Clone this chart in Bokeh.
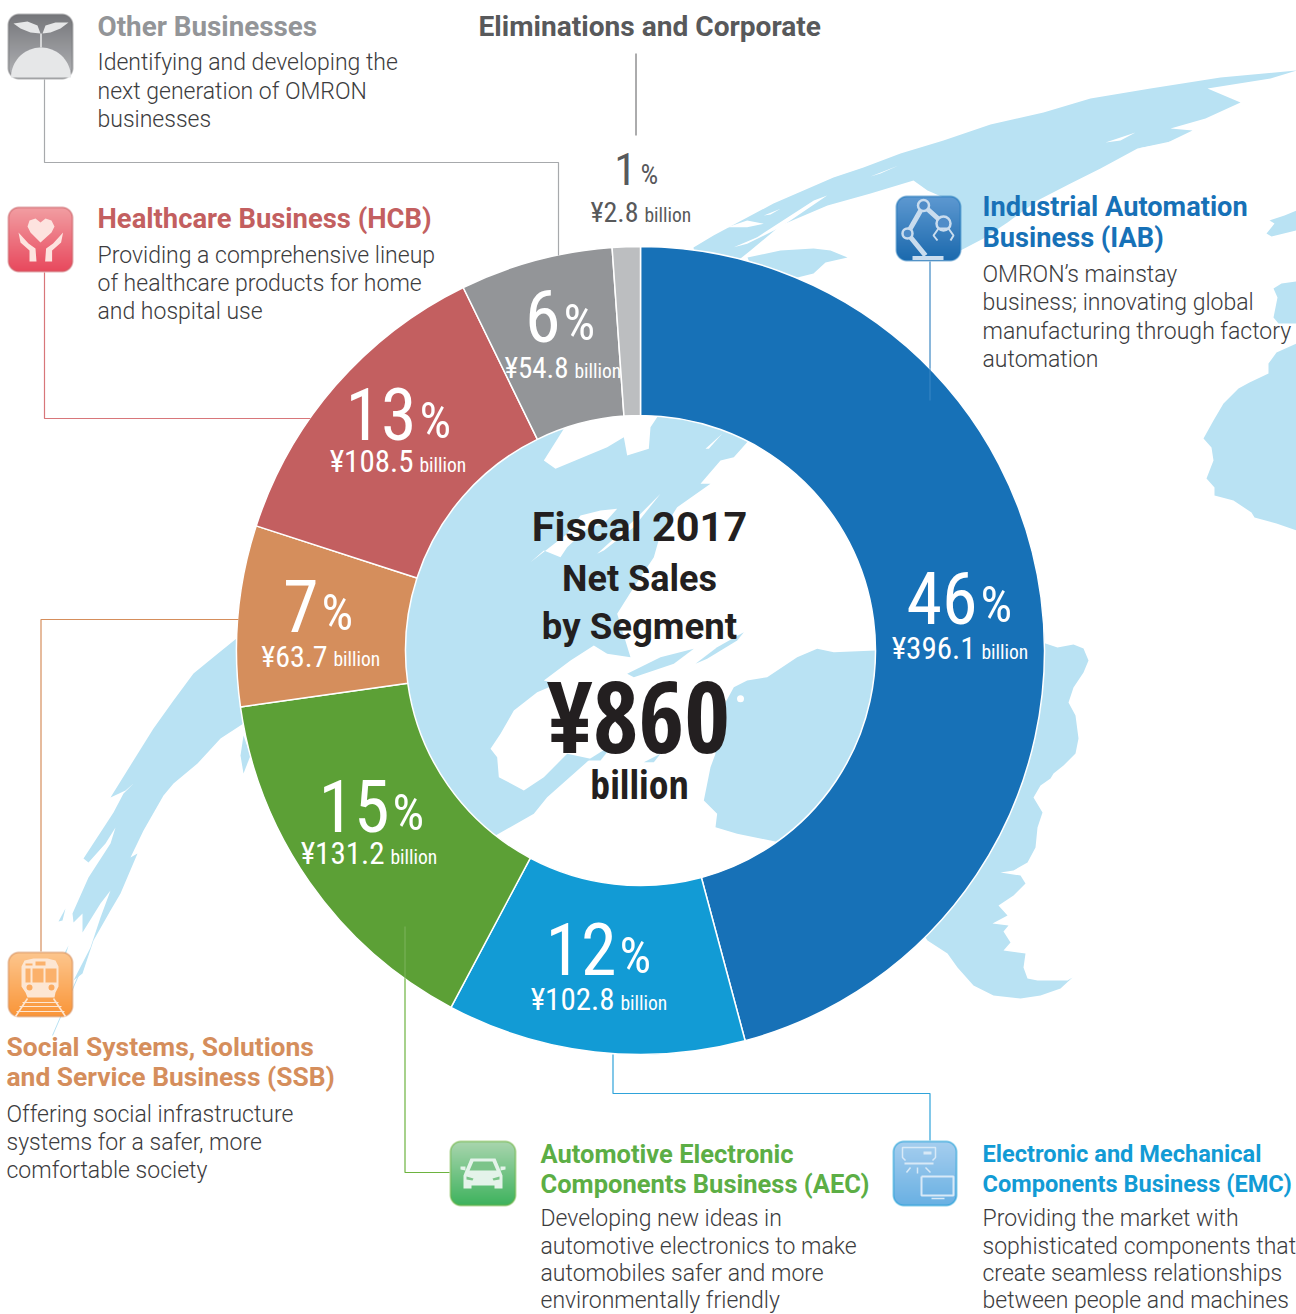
import numpy as np
from bokeh.plotting import figure
from bokeh.embed import file_html
from bokeh.resources import INLINE
from bokeh.core.properties import value

# ---------- data ----------
segments = ["Industrial Automation Business (IAB)", "Electronic and Mechanical Components Business (EMC)",
            "Automotive Electronic Components Business (AEC)", "Social Systems, Solutions and Service Business (SSB)",
            "Healthcare Business (HCB)", "Other Businesses", "Eliminations and Corporate"]
percents = [46, 12, 15, 7, 13, 6, 1]
drawn_shares = [45.83, 11.94, 15.0, 7.22, 12.78, 6.11, 1.12]   # slice sizes
amounts = ["396.1", "102.8", "131.2", "63.7", "108.5", "54.8", "2.8"]
colors = ["#1771b7", "#129bd5", "#5ca036", "#d58e5c", "#c35f60", "#939598", "#bcbec0"]
total_text = "¥860"

LAND = "#b9e2f3"
DARK = "#231f20"
BODY_C = "#3c3c3e"
BODY_FONT = "Roboto Light"
HEAD_FONT = "Roboto"
NUM_FONT = "Roboto Condensed"
NUM_BOLD = "Open Sans Condensed"
MID = {BODY_FONT: .345, HEAD_FONT: .345, NUM_FONT: .345, NUM_BOLD: .388}

def Y(py):
    return 1314 - np.asarray(py, dtype=float)

p = figure(width=1296, height=1314, x_range=(0, 1296), y_range=(0, 1314),
           toolbar_location=None, output_backend="svg", min_border=0)
p.axis.visible = False
p.grid.visible = False
p.outline_line_color = None
p.background_fill_color = "white"

def poly(pts, color=LAND, **kw):
    a = np.array(pts, dtype=float)
    p.patch(a[:, 0], Y(a[:, 1]), fill_color=color, line_color=None, **kw)

def line(pts, color, width=1.0, cap="butt"):
    a = np.array(pts, dtype=float)
    p.line(a[:, 0], Y(a[:, 1]), line_color=color, line_width=width, line_cap=cap)

def T(x, bl, s, size, color, font, style="normal", align="left"):
    p.text([x], [float(Y(bl - MID[font] * size))], text=[s], text_font=value(font),
           text_font_size=value(f"{size}px"), text_font_style=style, text_color=color,
           text_align=align, text_baseline="alphabetic")

def Z8(pts):
    return [(480 + x / 3, 60 + y / 3) for x, y in pts]

# ---------- outer land ----------
poly([(693,247),(713,235),(773,203),(833,177),(863,167),(900,153),(943,140),(990,124),(1043,112),(1090,98),
      (1150,88),(1220,77),(1296,70),(1270,78),(1207,88),(1240,102),(1205,118),(1170,128),(1192,130),(1165,143),
      (1137,148),(1100,168),(1070,183),(1037,200),(1007,222),(983,238),(960,250),(950,200),(927,190),(913,180),
      (870,193),(827,205),(780,225),(750,250),(700,290)])
poly(Z8([(740,500),(800,480),(850,490),(800,500)]), "white")
poly(Z8([(850,465),(900,445),(870,462)]), "white")
poly(Z8([(760,560),(830,530),(1000,420),(1040,405),(900,500),(800,550)]), "white")
poly([(870,176),(898,165),(880,173)], "white")
poly([(1137,148),(1170,141),(1160,146)], "white")
poly([(1105,142),(1135,132),(1120,140)], "white")
poly([(747,257),(780,250),(813,248),(830,250),(847,257),(825,262),(813,273),(797,277),(760,290)])
poly([(1296,210),(1284,215),(1269,220),(1274,223),(1266,233),(1271,236),(1296,230)])
poly([(1296,281),(1281,283),(1273,288),(1277,297),(1275,307),(1273,317),(1278,323),(1296,323)])
poly([(1296,343),(1276,352),(1268,363),(1268,373),(1249,382),(1238,388),(1223,403),(1213,420),(1203,438),(1211,447),
      (1213,460),(1206,478),(1214,487),(1214,495),(1233,500),(1251,512),(1254,517),(1276,523),(1296,530)])
# south america
poly([(1000,640),(1045,643),(1057,647),(1073,644),(1083,648),(1088,660),(1083,672),(1073,687),(1068,702),(1075,715),
      (1078,738),(1075,753),(1063,765),(1053,773),(1050,778),(1040,785),(1033,797),(1042,812),(1037,827),(1035,847),
      (1027,862),(1013,870),(1000,872),(1020,875),(1025,883),(1013,895),(998,905),(1007,915),(992,923),(1008,925),
      (1003,931),(1010,942),(1003,950),(1025,953),(1023,967),(1027,978),(1037,980),(1067,980),(1072,977),(1060,988),
      (1040,995),(1020,998),(993,995),(973,985),(957,967),(947,953),(927,940),(900,900)])
# south-west land
poly([(260,625),(236,638),(215,655),(193,673),(173,700),(153,728),(133,760),(110,797),(125,790),(133,783),(123,793),
      (113,812),(83,858),(88,862),(105,843),(115,827),(110,843),(88,877),(72,913),(73,922),(82,913),(82,932),(100,903),
      (110,890),(100,917),(90,947),(73,980),(82,973),(93,940),(110,910),(120,893),(137,853),(130,857),(143,830),(163,795),
      (173,783),(197,763),(220,738),(243,723),(270,700)])
poly([(58,921),(65,908),(62,920)])
poly([(60,960),(68,945),(63,962)])
poly([(243,773),(250,755),(243,735),(240,755)])
line([(52,1035),(78,975)], LAND, 1.0)

# ---------- centre disc with map ----------
p.circle([640], [float(Y(650))], radius=236, fill_color=LAND, line_color=None)
def Z(pts):
    return [(400 + x / 3, 400 + y / 3) for x, y in pts]
poly(Z([(1040,125),(1000,170),(960,180),(900,250),(930,250),(830,320),(780,400),(760,470),(700,560),(650,640),(690,770),
        (620,760),(580,735),(510,780),(430,840),(470,850),(410,875),(340,930),(300,1000),(270,1045),(290,1070),(295,1130),
        (370,1170),(430,1130),(500,1060),(570,1075),(440,1190),(400,1240),(285,1305),(280,1500),(1135,1500),(1135,1325),
        (1010,1300),(945,1280),(950,1240),(910,1200),(930,1100),(945,1060),(940,970),(1000,860),(1040,840),(1100,830),
        (1190,770),(1250,745),(1300,755),(1425,750),(1600,750),(1600,0),(1040,0)]), "white")
poly(Z([(490,85),(430,180),(465,205),(620,140),(670,110),(680,165),(745,145),(750,80),(770,50),(770,0),(490,0)]), "white")
poly(Z([(390,485),(500,400),(540,345),(600,330),(650,325),(610,370),(560,385),(500,440),(480,470),(430,450)]), "white")
poly(Z([(590,460),(700,360),(780,280),(700,380),(610,450)]), "white")
poly(Z([(915,145),(965,100),(925,145)]), "white")
poly(Z([(680,820),(780,770),(880,745),(820,790),(700,830)]))
poly(Z([(885,790),(950,740),(1030,695),(1010,720),(920,775)]))
poly(Z([(560,1080),(640,1030),(600,1080)]))
poly(Z([(730,1085),(780,1060),(760,1085)]))
p.circle([400 + 1020 / 3], [float(Y(400 + 895 / 3))], radius=3.5, fill_color="white", line_color=None)

# ---------- donut ----------
frac = np.array(drawn_shares, dtype=float) / sum(drawn_shares)
edges = np.concatenate([[0], np.cumsum(frac)]) * 2 * np.pi
p.annular_wedge(x=640, y=float(Y(650)), inner_radius=235, outer_radius=404,
                start_angle=np.pi / 2 - edges[:-1], end_angle=np.pi / 2 - edges[1:], direction="clock",
                fill_color=colors, line_color="white", line_width=1.5)

# ---------- connectors ----------
line([(44,79),(44,162),(558,162),(558,255)], "#a7a9ac", 1.2)
line([(44,272),(44,418),(310,418)], "#d8767a", 1.2)
line([(635.5,53),(635.5,135)], "#58595b", 1.0)
line([(929.5,261),(929.5,368)], "#1771b7", 1.0)
line([(929.5,368),(929.5,400)], "#3b88c5", 1.0)
line([(40.5,951),(40.5,619),(238,619)], "#d58e5c", 1.2)
line([(404.5,978),(404.5,1172),(449,1172)], "#6db33f", 1.2)
line([(404.5,926),(404.5,978)], "#7cb35c", 1.0)
line([(612.5,1054),(612.5,1093),(929.5,1093),(929.5,1140)], "#2fa3da", 1.2)

# ---------- icons ----------
def hex2rgb(h):
    return np.array([int(h[i:i + 2], 16) for i in (1, 3, 5)], dtype=float)

def icon(x0, y0, w, h, top, bot, border, rad=11.5, bw=2.0, ss=3):
    W, H = int(w * ss), int(h * ss)
    yy, xx = np.mgrid[0:H, 0:W]
    px = (xx + .5) / ss
    py = h - (yy + .5) / ss          # row 0 is the bottom of the picture
    dx = np.abs(px - w / 2) - (w / 2 - rad)
    dy = np.abs(py - h / 2) - (h / 2 - rad)
    d = np.hypot(np.maximum(dx, 0), np.maximum(dy, 0)) + np.minimum(np.maximum(dx, dy), 0) - rad
    t = (py / h)[..., None]
    c = hex2rgb(top) * (1 - t) + hex2rgb(bot) * t
    k = np.clip(d + bw, 0, 1)[..., None]
    c = c * (1 - k) + hex2rgb(border) * k
    a = np.clip(-d, 0, 1) * 255
    img = np.dstack([c, a]).astype(np.uint8)
    u = img.view(np.uint32).reshape(H, W)
    p.image_rgba(image=[u], x=[x0], y=[float(Y(y0 + h))], dw=[w], dh=[h])

icon(7, 13, 66, 66, "#75767a", "#b4b5b8", "#6d6e71")
icon(7, 206, 66, 66, "#f2a0a4", "#e8475c", "#c95f64")
icon(895, 195, 66, 66, "#5f9ad2", "#1b69ad", "#1771b7")
icon(7, 951, 66, 66, "#fdc78f", "#fa9537", "#d58e5c")
icon(449, 1140, 67, 66, "#abd6b0", "#3cb25c", "#6db33f")
icon(892, 1140, 65, 66, "#a8cfef", "#68b0e3", "#129bd5")

# other businesses: sprout and globe
G = "#e6e7e8"
poly([(13,23),(27,21),(37,25),(40,33),(30,32),(20,28)], G)
poly([(42,33),(45,25),(55,22),(68,22),(60,28),(50,32)], G)
line([(40.5,33),(40.5,47)], G, 1.6)
th = np.linspace(np.pi, 0, 40)
poly(list(zip(40.5 + 30 * np.cos(th), 77 - 30 * np.sin(th))), G)
# health: heart and hands
H = "#fde3df"
poly([(40,242),(30,232),(27,226),(29,220),(35,218),(40,222),(45,218),(51,220),(54,226),(51,232)], H)
hand = [(18,232),(28,243),(35,248),(36,261),(29,261),(29,250),(20,242)]
poly(hand, H)
poly([(80.6 - x, y) for x, y in hand], H)
# robot
R = "#c9dcee"
line([(912,257.5),(943,257.5)], R, 4)
line([(925,255),(907,233),(923,205),(943,223)], R, 5)
for cx, cy, r in [(907,233,5),(923,205,5.5),(943,223,7)]:
    p.circle([cx], [float(Y(cy))], radius=r, fill_color="#4f8cc8", line_color=R, line_width=2.5)
line([(937,240),(933,235),(938,228),(948,228),(953,235),(950,240)], R, 2)
# train
L = "#fde6d2"
poly([(21,966),(24,960),(33,958),(47,958),(55,960),(58,966),(58,986),(55,992),(54,997),(27,997),(25,992),(21,986)], L)
poly([(25,968),(30,968),(30,982),(25,982)], "#fbb16b")
poly([(32,968),(43,968),(43,982),(32,982)], "#fbb16b")
poly([(45,968),(56,968),(56,982),(45,982)], "#fbb16b")
poly([(25,963),(32,963),(32,965),(25,965)], "#fbb16b")
poly([(35,961),(45,961),(45,965),(35,965)], "#fbb16b")
p.circle([29, 51], Y([987, 987]), radius=3, fill_color="#fbab60", line_color=None)
for yy, a, b in [(1002,22,58),(1006,19,61),(1011,16,64)]:
    line([(a,yy),(b,yy)], L, 1.2)
line([(27,998),(15,1016)], L, 1.6)
line([(53,998),(65,1016)], L, 1.6)
# car
C = "#e4f3ea"
poly([(470,1158),(495,1158),(500,1170),(502,1175),(502,1188),(494,1188),(494,1185),(471,1185),(471,1188),(463,1188),(463,1175),(465,1170)], C)
poly([(473,1161),(492,1161),(496,1170),(469,1170)], "#7cc48a")
poly([(460,1166),(465,1166),(465,1170),(460,1169)], C)
poly([(500,1166),(505,1166),(505,1169),(500,1170)], C)
poly([(466,1176),(473,1178),(472,1180),(466,1179)], "#7cc48a")
poly([(499,1176),(492,1178),(493,1180),(499,1179)], "#7cc48a")
# electronics
E = "#d8e9f7"
line([(905,1160),(902,1157),(902,1147),(935,1147),(935,1157),(932,1160)], E, 1.5)
line([(904,1163),(933,1163)], E, 2)
poly([(923,1151),(931,1151),(931,1154),(923,1154)], E)
line([(910,1167),(906,1172)], E, 1.5)
line([(917,1167),(917,1173)], E, 1.5)
line([(925,1167),(930,1172)], E, 1.5)
line([(921,1176),(953,1176),(953,1195),(921,1195),(921,1176)], E, 2)
line([(931,1198),(944,1198)], E, 1.5)

# ---------- text blocks ----------
def block(x, head, head_bl, head_c, head_size, body, body_bl):
    for s, b in zip(head, head_bl):
        T(x - 1, b, s, head_size, head_c, HEAD_FONT, "bold")
    for s, b in zip(body, body_bl):
        T(x - 1, b, s, 23, BODY_C, BODY_FONT)

block(98, ["Other Businesses"], [36], "#939598", 27.8,
      ["Identifying and developing the", "next generation of OMRON", "businesses"], [70, 98.5, 127])
T(478, 36, "Eliminations and Corporate", 28.1, "#58595b", HEAD_FONT, "bold")
block(98, ["Healthcare Business (HCB)"], [228], "#c35f60", 27.4,
      ["Providing a comprehensive lineup", "of healthcare products for home", "and hospital use"], [263, 291, 319])
block(983, ["Industrial Automation", "Business (IAB)"], [216, 247], "#1771b7", 27.2,
      ["OMRON’s mainstay", "business; innovating global", "manufacturing through factory", "automation"], [282, 310, 338.5, 367])
block(7, ["Social Systems, Solutions", "and Service Business (SSB)"], [1056, 1086], "#d58e5c", 26.4,
      ["Offering social infrastructure", "systems for a safer, more", "comfortable society"], [1122, 1150, 1178])
block(541, ["Automotive Electronic", "Components Business (AEC)"], [1162, 1192], "#5cae45", 25.5,
      ["Developing new ideas in", "automotive electronics to make", "automobiles safer and more", "environmentally friendly"], [1226, 1254, 1281, 1308])
block(983, ["Electronic and Mechanical", "Components Business (EMC)"], [1162, 1192], "#129bd5", 23.6,
      ["Providing the market with", "sophisticated components that", "create seamless relationships", "between people and machines"], [1226, 1254, 1281, 1308])

# ---------- donut labels ----------
pct_right = [977, 616, 389, 318, 416, 560, 636]
pct_bl = [622, 973, 830, 630, 438, 340, 184]
yen_right = [975, 614, 384, 327, 413, 568, 638]
yen_bl = [659, 1010, 864, 666, 472, 378, 222]
yen_size = [31, 31, 31, 30, 31, 29, 28]
for i, (v, a) in enumerate(zip(percents, amounts)):
    c = "#58595b" if i == 6 else "white"
    big = 45 if i == 6 else 72
    small = 28 if i == 6 else 50
    T(pct_right[i], pct_bl[i], str(v), big, c, NUM_FONT, align="right")
    T(pct_right[i] + (4 if i == 6 else 3), pct_bl[i], "%", small, c, NUM_FONT)
    T(yen_right[i], yen_bl[i], "¥" + a, yen_size[i], c, NUM_FONT, align="right")
    T(yen_right[i] + 6, yen_bl[i], "billion", 19.5, c, NUM_FONT)

# ---------- centre ----------
T(639, 540, "Fiscal 2017", 41.5, DARK, HEAD_FONT, "bold", "center")
T(639, 591, "Net Sales", 36, DARK, HEAD_FONT, "bold", "center")
T(639, 639, "by Segment", 36.6, DARK, HEAD_FONT, "bold", "center")
T(638, 752, total_text, 99, DARK, NUM_BOLD, "bold", "center")
T(639, 799, "billion", 40, DARK, NUM_BOLD, "bold", "center")

open("out.html", "w").write(file_html(p, INLINE))
